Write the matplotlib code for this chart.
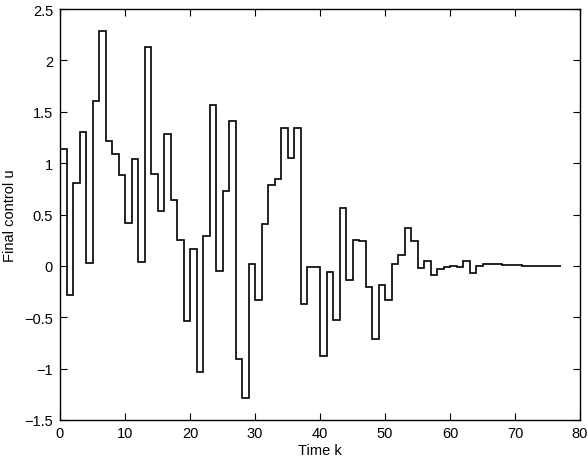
import matplotlib
matplotlib.use("Agg")
import matplotlib.pyplot as plt
import numpy as np

# control signal u(k), one value per time step k = 0..76
u_values = [1.14, -0.28, 0.81, 1.30, 0.03, 1.60, 2.29, 1.22, 1.09, 0.88,
            0.42, 1.04, 0.04, 2.13, 0.89, 0.53, 1.28, 0.645, 0.25, -0.54,
            0.16, -1.03, 0.29, 1.57, -0.05, 0.73, 1.41, -0.905, -1.29, 0.015,
            -0.33, 0.41, 0.79, 0.85, 1.345, 1.05, 1.34, -0.37, -0.01, -0.007,
            -0.88, -0.055, -0.53, 0.56, -0.14, 0.25, 0.24, -0.21, -0.71, -0.19,
            -0.33, 0.02, 0.11, 0.37, 0.24, -0.02, 0.045, -0.085, -0.03, -0.015,
            -0.005, -0.015, 0.045, -0.065, -0.005, 0.015, 0.02, 0.018, 0.008, 0.007,
            0.006, 0.002, 0.0, 0.0, -0.002, -0.002, -0.001]

x_ticks = [0, 10, 20, 30, 40, 50, 60, 70, 80]
y_ticks = [-1.5, -1, -0.5, 0, 0.5, 1, 1.5, 2, 2.5]
y_tick_labels = ["\u22121.5", "\u22121", "\u22120.5", "0", "0.5", "1", "1.5", "2", "2.5"]

plt.rcParams["font.family"] = ["Liberation Sans", "DejaVu Sans"]
plt.rcParams["font.size"] = 10.5

fig = plt.figure(figsize=(5.88, 4.64), dpi=100)
ax = fig.add_axes([60 / 588, 1 - 421 / 464, 520 / 588, 411 / 464])

edges = np.arange(len(u_values) + 1)
ax.stairs(u_values, edges, baseline=None, color="black", linewidth=1.2)

ax.set_xlim(0, 80)
ax.set_ylim(-1.5, 2.5)
ax.set_xticks(x_ticks)
ax.set_yticks(y_ticks)
ax.set_yticklabels(y_tick_labels)
ax.tick_params(direction="in", top=True, right=True, length=5, width=0.8)
ax.tick_params(axis="y", pad=5)
ax.tick_params(axis="x", pad=4.5)
for s in ax.spines.values():
    s.set_linewidth(1.0)

ax.set_xlabel("Time k", labelpad=2)
ax.set_ylabel("Final control u", labelpad=5)

fig.savefig("out.png", dpi=100)
